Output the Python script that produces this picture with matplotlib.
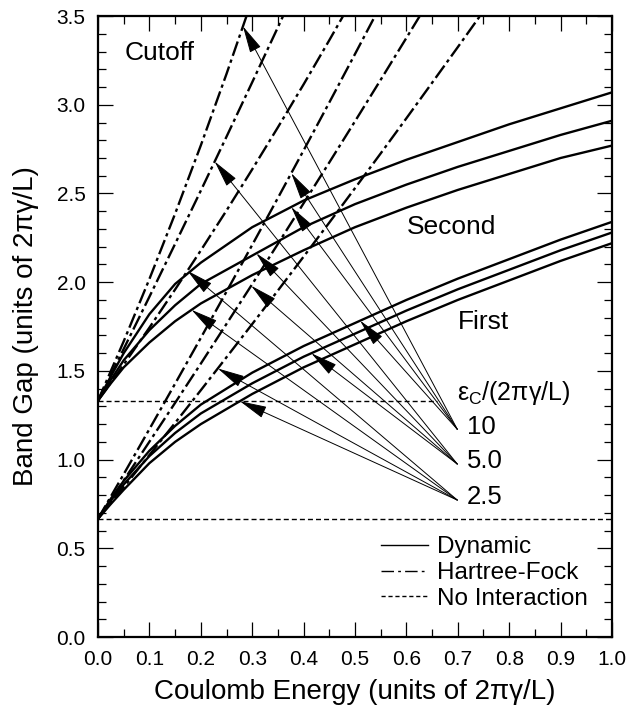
import numpy as np
import matplotlib
matplotlib.use("Agg")
import matplotlib.pyplot as plt
from matplotlib.lines import Line2D
from matplotlib.ticker import MultipleLocator, FormatStrFormatter

plt.rcParams['font.family'] = ['Liberation Sans', 'DejaVu Sans']
plt.rcParams['mathtext.fontset'] = 'custom'
plt.rcParams['mathtext.rm'] = 'Liberation Sans'

# Coulomb energy grid for the dynamic curves
x_dyn = [0, 0.025, 0.05, 0.1, 0.15, 0.2, 0.3, 0.4, 0.5, 0.6, 0.7, 0.8, 0.9, 1.0]

# Dynamic gaps, first band (cutoff 10, 5.0, 2.5)
first_10 = [0.667, 0.78, 0.88, 1.05, 1.19, 1.31, 1.49, 1.64, 1.77, 1.90, 2.02, 2.13, 2.24, 2.34]
first_5 = [0.667, 0.77, 0.86, 1.02, 1.15, 1.26, 1.43, 1.58, 1.71, 1.84, 1.96, 2.07, 2.18, 2.28]
first_25 = [0.667, 0.75, 0.83, 0.98, 1.10, 1.20, 1.37, 1.52, 1.65, 1.78, 1.90, 2.01, 2.12, 2.22]

# Dynamic gaps, second band
second_10 = [1.333, 1.47, 1.60, 1.82, 1.99, 2.11, 2.31, 2.46, 2.58, 2.69, 2.79, 2.89, 2.98, 3.07]
second_5 = [1.333, 1.45, 1.56, 1.73, 1.87, 1.99, 2.15, 2.31, 2.44, 2.55, 2.65, 2.74, 2.83, 2.91]
second_25 = [1.333, 1.43, 1.52, 1.66, 1.78, 1.88, 2.04, 2.18, 2.31, 2.42, 2.52, 2.61, 2.70, 2.77]

# Hartree-Fock gaps (same x steps, each runs until it leaves the top)
hf_x = [0, 0.05, 0.1, 0.15, 0.2, 0.25, 0.3, 0.35, 0.4, 0.45, 0.5, 0.55, 0.6, 0.65, 0.7, 0.75]
hf_second_10 = [1.333, 1.667, 2.018, 2.386, 2.771, 3.174, 3.593]
hf_second_5 = [1.333, 1.624, 1.918, 2.216, 2.516, 2.820, 3.127, 3.437, 3.751]
hf_second_25 = [1.333, 1.536, 1.744, 1.959, 2.179, 2.404, 2.636, 2.873, 3.115, 3.364, 3.618]
hf_first_10 = [0.667, 0.918, 1.172, 1.428, 1.686, 1.947, 2.210, 2.475, 2.743, 3.013, 3.286, 3.561]
hf_first_5 = [0.667, 0.883, 1.101, 1.320, 1.541, 1.765, 1.989, 2.216, 2.445, 2.675, 2.907, 3.141,
              3.377, 3.614]
hf_first_25 = [0.667, 0.845, 1.026, 1.207, 1.391, 1.577, 1.764, 1.953, 2.144, 2.336, 2.530, 2.726,
               2.924, 3.124, 3.325, 3.528]

# No interaction gaps
free_first = 0.667
free_second = 1.333
free_second_end = 0.66

# cutoff labels and the point the arrows start from
cutoff_labels = ["10", "5.0", "2.5"]
anchor_x = 0.699
anchor_y = [1.171, 0.975, 0.772]
# x where each arrow touches: HF second, HF first, dynamic second, dynamic first
tips_10 = [0.282, 0.376, 0.376, 0.51]
tips_5 = [0.227, 0.298, 0.308, 0.415]
tips_25 = [0.174, 0.233, 0.182, 0.276]

fig = plt.figure(figsize=(6.44, 7.14), dpi=100)
ax = fig.add_axes([0.1522, 0.1078, 0.7981, 0.8697])

solid = dict(color='k', lw=1.7, solid_capstyle='butt')
dashdot = dict(color='k', lw=1.7, dashes=(6.4, 1.7, 1.4, 1.7))
dotted = dict(color='k', lw=1.0, dashes=(3.6, 2.2))

ax.plot([0, 1.0], [free_first, free_first], **dotted)
ax.plot([0, free_second_end], [free_second, free_second], **dotted)

for ys in [hf_second_10, hf_second_5, hf_second_25, hf_first_10, hf_first_5, hf_first_25]:
    ax.plot(hf_x[:len(ys)], ys, **dashdot)

for ys in [first_10, first_5, first_25, second_10, second_5, second_25]:
    ax.plot(x_dyn, ys, **solid)

# arrows from the cutoff labels to the curves
groups = [
    (tips_10, [hf_second_10, hf_first_10, second_10, first_10]),
    (tips_5, [hf_second_5, hf_first_5, second_5, first_5]),
    (tips_25, [hf_second_25, hf_first_25, second_25, first_25]),
]
for i, (tips, curves) in enumerate(groups):
    for j, (tx, ys) in enumerate(zip(tips, curves)):
        xs = hf_x[:len(ys)] if j < 2 else x_dyn
        ty = np.interp(tx, xs, ys)
        ax.annotate('', xy=(tx, ty), xytext=(anchor_x, anchor_y[i]),
                    arrowprops=dict(arrowstyle='-|>,head_length=1.7,head_width=0.38',
                                    mutation_scale=10, lw=0.7, color='k',
                                    shrinkA=0, shrinkB=0))
    ax.text(anchor_x + 0.019, anchor_y[i] + 0.015, cutoff_labels[i], fontsize=18.5,
            ha='left', va='center')

ax.text(anchor_x, 1.374, r'ε$_\mathregular{C}$/(2πγ/L)', fontsize=18, ha='left', va='center')
ax.text(0.052, 3.294, 'Cutoff', fontsize=19, ha='left', va='center')
ax.text(0.688, 2.313, 'Second', fontsize=19, ha='center', va='center')
ax.text(0.75, 1.777, 'First', fontsize=19, ha='center', va='center')

handles = [Line2D([], [], color='k', lw=1.0),
           Line2D([], [], color='k', lw=1.0, dashes=(9, 3, 2, 3)),
           Line2D([], [], color='k', lw=1.0, dashes=(3, 2))]
ax.legend(handles, ['Dynamic', 'Hartree-Fock', 'No Interaction'], loc='center left',
          bbox_to_anchor=(0.551, 0.103), frameon=False, fontsize=17.5, borderpad=0,
          borderaxespad=0, handlelength=1.93, handletextpad=0.36, labelspacing=0.15)

ax.set_xlim(0, 1.0)
ax.set_ylim(0, 3.5)
ax.xaxis.set_major_locator(MultipleLocator(0.1))
ax.xaxis.set_minor_locator(MultipleLocator(0.05))
ax.yaxis.set_major_locator(MultipleLocator(0.5))
ax.yaxis.set_minor_locator(MultipleLocator(0.1))
ax.xaxis.set_major_formatter(FormatStrFormatter('%.1f'))
ax.yaxis.set_major_formatter(FormatStrFormatter('%.1f'))
ax.tick_params(which='both', direction='in', top=True, right=True, labelsize=15, pad=9)
ax.tick_params(which='major', length=11, width=0.9)
ax.tick_params(which='minor', length=5.5, width=0.9)
for s in ax.spines.values():
    s.set_linewidth(1.6)

ax.set_xlabel('Coulomb Energy (units of 2πγ/L)', fontsize=20)
ax.set_ylabel('Band Gap (units of 2πγ/L)', fontsize=20)
ax.xaxis.set_label_coords(0.5, -0.068)
ax.yaxis.set_label_coords(-0.115, 0.5)

fig.savefig('out.png', dpi=100)
